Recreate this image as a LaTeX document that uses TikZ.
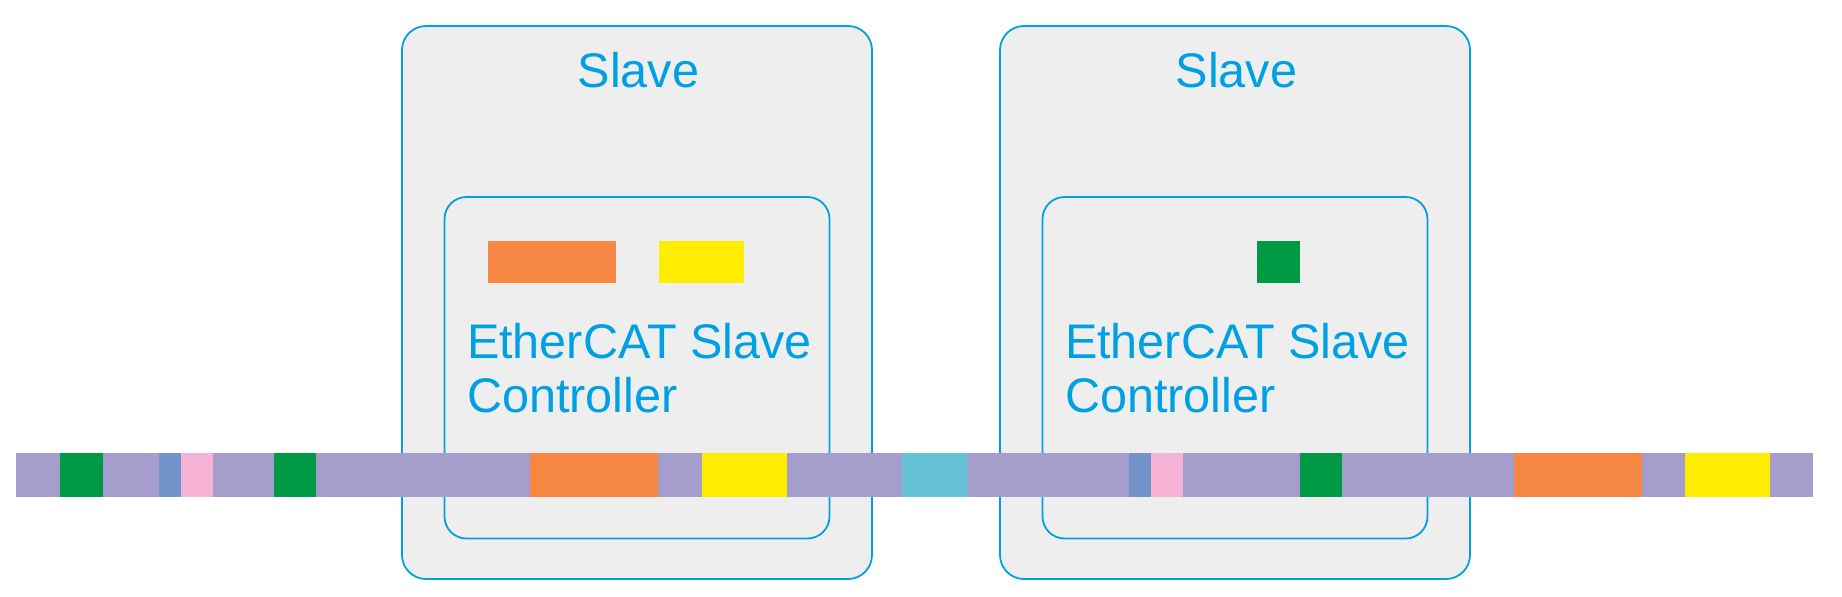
\documentclass[tikz,border=0pt]{standalone}
\usepackage{fontspec}
\setmainfont{Liberation Sans}
\definecolor{ecblue}{RGB}{0,160,227}
\definecolor{boxgray}{RGB}{238,238,238}
\definecolor{stripP}{RGB}{165,158,204}
\definecolor{segG}{RGB}{0,154,68}
\definecolor{segB}{RGB}{115,147,203}
\definecolor{segK}{RGB}{246,179,214}
\definecolor{segO}{RGB}{246,135,66}
\definecolor{segY}{RGB}{255,237,0}
\definecolor{segC}{RGB}{102,195,214}
\begin{document}
\begin{tikzpicture}[x=0.5pt,y=-0.5pt,
  boxline/.style={draw=ecblue, line width=0.9pt, fill=boxgray},
  lbl/.style={text=ecblue, font=\fontsize{24.3}{28}\selectfont, inner sep=0pt, outer sep=0pt}]
\useasboundingbox (0,0) rectangle (1842,596);
% slave boxes
\foreach \dx/\nm in {0/A,598/B}{
  \begin{scope}[xshift=\dx*0.5pt]
    \draw[boxline, rounded corners=12pt] (402,26) rectangle (872,579);
    \draw[boxline, rounded corners=11pt] (444.5,197) rectangle (829.5,538.5);
    \node[lbl, anchor=base] (slave\nm) at (638.5,87) {Slave};
    \node[lbl, anchor=base west] (esc\nm) at (467,358) {EtherCAT Slave};
    \node[lbl, anchor=base west] (ctl\nm) at (467,412) {Controller};
  \end{scope}
}
% data in slave controllers
\fill[segO] (487.5,240.5) rectangle (615.5,282.5);
\fill[segY] (658.5,240.5) rectangle (744,282.5);
\fill[segG] (1257,240.5) rectangle (1299.5,282.5);
% frame strip
\fill[stripP] (16,453) rectangle (1813,497);
\foreach \a/\b/\c in {60/102.5/segG, 159/181/segB, 181/213/segK, 274/316/segG,
  530/658/segO, 701.5/787/segY, 901.5/968/segC, 1129/1150.5/segB, 1150.5/1183/segK,
  1299.5/1342/segG, 1513.5/1642/segO, 1684.5/1770/segY}{
  \fill[\c] (\a,453) rectangle (\b,497);
}
\end{tikzpicture}
\end{document}
